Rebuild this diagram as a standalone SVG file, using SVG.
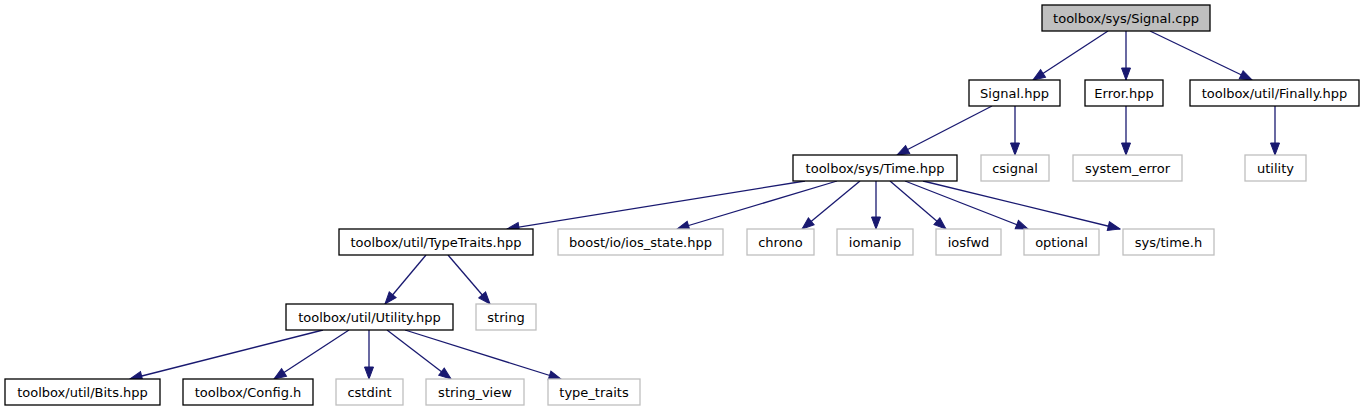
<svg xmlns="http://www.w3.org/2000/svg" width="1365" height="411" viewBox="0 0 1365 411">
<style>
.n rect{fill:#ffffff;stroke:#000000;stroke-width:1.3}
.n.root rect{fill:#bfbfbf}
.n.ext rect{stroke:#bfbfbf}
.n text{font-family:"DejaVu Sans",sans-serif;font-size:13px;text-anchor:middle;fill:#000000}
#edges line{stroke:#191970;stroke-width:1.3;fill:none;marker-end:url(#arr)}
</style>
<defs>
<marker id="arr" markerUnits="userSpaceOnUse" markerWidth="14" markerHeight="12" refX="13" refY="6" orient="auto">
<path d="M1,1.5 L13,6 L1,10.5 z" fill="#191970" stroke="#191970" stroke-width="1"/>
</marker>
</defs>
<rect width="1365" height="411" fill="#ffffff"/>
<g id="edges">
<line x1="1108" y1="31" x2="1033" y2="80"/>
<line x1="1126" y1="31" x2="1126" y2="80"/>
<line x1="1150" y1="31" x2="1252" y2="80"/>
<line x1="992" y1="106" x2="897" y2="155"/>
<line x1="1015" y1="106" x2="1015" y2="155"/>
<line x1="1126" y1="106" x2="1126" y2="155"/>
<line x1="1275" y1="106" x2="1275" y2="155"/>
<line x1="805" y1="181" x2="507" y2="229"/>
<line x1="837" y1="181" x2="677" y2="229"/>
<line x1="860" y1="181" x2="802" y2="229"/>
<line x1="876" y1="181" x2="876" y2="229"/>
<line x1="890" y1="181" x2="946" y2="229"/>
<line x1="905" y1="181" x2="1028" y2="229"/>
<line x1="923" y1="181" x2="1120" y2="229"/>
<line x1="426" y1="255" x2="385" y2="304"/>
<line x1="448" y1="255" x2="490" y2="304"/>
<line x1="323" y1="330" x2="130" y2="379"/>
<line x1="349" y1="330" x2="274" y2="379"/>
<line x1="369" y1="330" x2="369" y2="379"/>
<line x1="387" y1="330" x2="451" y2="379"/>
<line x1="405" y1="330" x2="561" y2="379"/>
</g>
<g id="node_signal_cpp" class="n root"><rect x="1042" y="5" width="168" height="26"/><text x="1126" y="22.5">toolbox/sys/Signal.cpp</text></g>
<g id="node_signal_hpp" class="n"><rect x="969" y="80" width="91" height="26"/><text x="1014.5" y="97.5">Signal.hpp</text></g>
<g id="node_error_hpp" class="n"><rect x="1085" y="80" width="78" height="26"/><text x="1124" y="97.5">Error.hpp</text></g>
<g id="node_finally_hpp" class="n"><rect x="1190" y="80" width="169" height="26"/><text x="1274.5" y="97.5">toolbox/util/Finally.hpp</text></g>
<g id="node_time_hpp" class="n"><rect x="793" y="155" width="164" height="26"/><text x="875" y="172.5">toolbox/sys/Time.hpp</text></g>
<g id="node_csignal" class="n ext"><rect x="981" y="155" width="68" height="26"/><text x="1015" y="172.5">csignal</text></g>
<g id="node_system_error" class="n ext"><rect x="1073" y="155" width="109" height="26"/><text x="1127.5" y="172.5">system_error</text></g>
<g id="node_utility" class="n ext"><rect x="1245" y="155" width="61" height="26"/><text x="1275.5" y="172.5">utility</text></g>
<g id="node_typetraits_hpp" class="n"><rect x="339" y="229" width="194" height="26"/><text x="436" y="246.5">toolbox/util/TypeTraits.hpp</text></g>
<g id="node_ios_state_hpp" class="n ext"><rect x="558" y="229" width="165" height="26"/><text x="640.5" y="246.5">boost/io/ios_state.hpp</text></g>
<g id="node_chrono" class="n ext"><rect x="747" y="229" width="67" height="26"/><text x="780.5" y="246.5">chrono</text></g>
<g id="node_iomanip" class="n ext"><rect x="837" y="229" width="76" height="26"/><text x="875" y="246.5">iomanip</text></g>
<g id="node_iosfwd" class="n ext"><rect x="936" y="229" width="65" height="26"/><text x="968.5" y="246.5">iosfwd</text></g>
<g id="node_optional" class="n ext"><rect x="1024" y="229" width="75" height="26"/><text x="1061.5" y="246.5">optional</text></g>
<g id="node_sys_time_h" class="n ext"><rect x="1123" y="229" width="91" height="26"/><text x="1168.5" y="246.5">sys/time.h</text></g>
<g id="node_utility_hpp" class="n"><rect x="286" y="304" width="167" height="26"/><text x="369.5" y="321.5">toolbox/util/Utility.hpp</text></g>
<g id="node_string" class="n ext"><rect x="476" y="304" width="60" height="26"/><text x="506" y="321.5">string</text></g>
<g id="node_bits_hpp" class="n"><rect x="5" y="379" width="155" height="26"/><text x="82.5" y="396.5">toolbox/util/Bits.hpp</text></g>
<g id="node_config_h" class="n"><rect x="183" y="379" width="130" height="26"/><text x="248" y="396.5">toolbox/Config.h</text></g>
<g id="node_cstdint" class="n ext"><rect x="336" y="379" width="67" height="26"/><text x="369.5" y="396.5">cstdint</text></g>
<g id="node_string_view" class="n ext"><rect x="426" y="379" width="98" height="26"/><text x="475" y="396.5">string_view</text></g>
<g id="node_type_traits" class="n ext"><rect x="548" y="379" width="92" height="26"/><text x="594" y="396.5">type_traits</text></g>
</svg>
